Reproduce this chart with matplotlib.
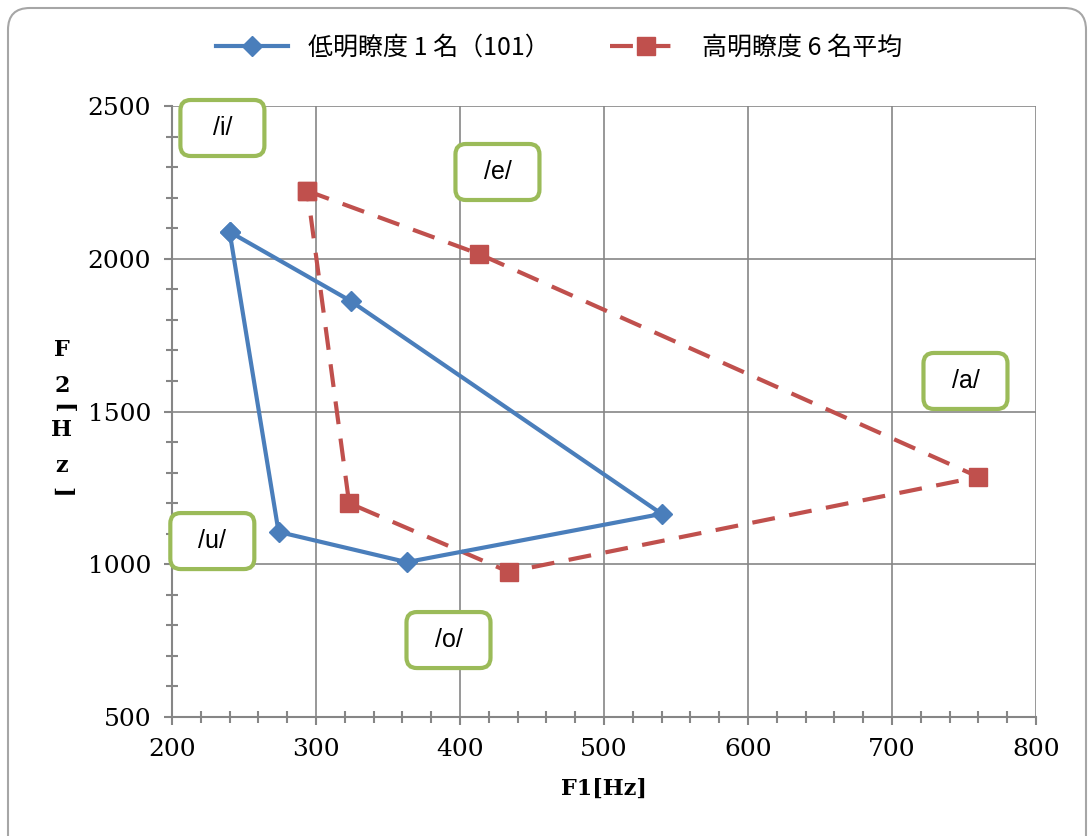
import numpy as np
import matplotlib
matplotlib.use('Agg')
import matplotlib.pyplot as plt
from matplotlib.patches import FancyBboxPatch
from matplotlib.ticker import MultipleLocator

#%% Data
vowels = ['/i/', '/e/', '/a/', '/o/', '/u/']
low_f1 = [240, 324, 540, 363, 274]
low_f2 = [2088, 1862, 1165, 1007, 1106]
high_f1 = [294, 413, 760, 434, 323]
high_f2 = [2222, 2016, 1286, 975, 1200]
label_names = ['/i/', '/e/', '/a/', '/u/', '/o/']
label_x = [235, 426, 751, 228, 392]
label_y = [2428, 2284, 1600, 1076, 752]

blue = '#4A7EBB'
red = '#C0504D'
green = '#9BBB59'
gray = '#868686'
serif = 'DejaVu Serif'

#%% Figure
fig = plt.figure(figsize=(10.9, 8.36), dpi=100)
ax = fig.add_axes([0.1578, 0.1423, 0.7927, 0.7309])

# outer rounded frame
frame = FancyBboxPatch((8 / 1090, -0.05), 1078 / 1090, 1 - 8 / 836 + 0.05,
                       boxstyle='round,pad=0,rounding_size=0.02',
                       transform=fig.transFigure, fc='white', ec='#A6A6A6',
                       lw=1.5, mutation_aspect=1090 / 836, zorder=-10)
fig.patches.append(frame)

# close polygons
lx = low_f1 + low_f1[:1]
ly = low_f2 + low_f2[:1]
hx = high_f1 + high_f1[:1]
hy = high_f2 + high_f2[:1]

ax.plot(lx, ly, color=blue, lw=3, marker='D', ms=10, mfc=blue, mec=blue,
        label='低明瞭度 1 名（101）', zorder=4)
ax.plot(hx, hy, color=red, lw=3, ls=(0, (5.5, 3.5)), marker='s', ms=13,
        mfc=red, mec=red, label='高明瞭度 6 名平均', zorder=3)

ax.set_xlim(200, 800)
ax.set_ylim(500, 2500)
ax.xaxis.set_major_locator(MultipleLocator(100))
ax.xaxis.set_minor_locator(MultipleLocator(20))
ax.yaxis.set_major_locator(MultipleLocator(500))
ax.yaxis.set_minor_locator(MultipleLocator(100))
ax.grid(which='major', color=gray, lw=1.2)
ax.set_axisbelow(True)

for s in ['top', 'right']:
    ax.spines[s].set_visible(False)
for s in ['left', 'bottom']:
    ax.spines[s].set_color(gray)
    ax.spines[s].set_linewidth(1.5)

ax.tick_params(which='major', direction='out', length=6, width=1.5, color=gray,
               labelsize=18, pad=9)
ax.tick_params(which='minor', direction='inout', length=9, width=1.5, color=gray)
for lab in ax.get_xticklabels() + ax.get_yticklabels():
    lab.set_fontfamily(serif)

ax.set_xlabel('F1[Hz]', fontsize=16, fontweight='bold', family=serif, labelpad=12)

# vertical y label
ychars = ['F', '2', '[', 'H', 'z', ']']
ypix = [350, 386, 408, 430, 466, 492]
for ch, yp in zip(ychars, ypix):
    rot = -90 if ch in '[]' else 0
    fig.text(62 / 1090, 1 - yp / 836, ch, ha='center', va='center', rotation=rot,
             fontsize=16, fontweight='bold', family=serif)

# vowel label boxes
bw, bh = 84 / 864, 56 / 611
for name, x, y in zip(label_names, label_x, label_y):
    cx = (x - 200) / 600
    cy = (y - 500) / 2000
    box = FancyBboxPatch((cx - bw / 2, cy - bh / 2), bw, bh,
                         boxstyle='round,pad=0,rounding_size=0.012',
                         mutation_aspect=864 / 611, transform=ax.transAxes,
                         fc='white', ec=green, lw=3, zorder=5, clip_on=False)
    ax.add_patch(box)
    ax.text(cx, cy, name, transform=ax.transAxes, ha='center', va='center',
            fontsize=18, family='Liberation Sans', zorder=6)

leg = fig.legend(loc='center', bbox_to_anchor=(0.513, 1 - 48 / 836), ncol=2,
                 frameon=False, handlelength=2.9, handletextpad=0.8,
                 columnspacing=2.4,
                 prop={'family': ['Noto Sans CJK JP', 'DejaVu Sans'], 'size': 18})

fig.savefig('out.png', dpi=100)
